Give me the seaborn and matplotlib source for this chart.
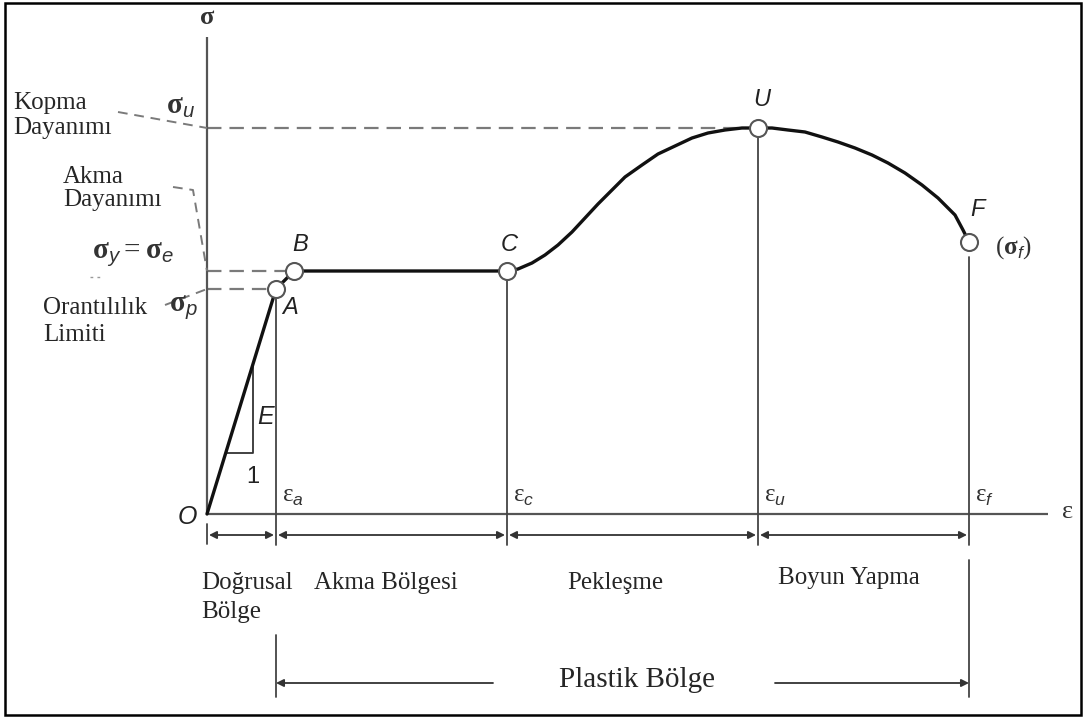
import matplotlib
matplotlib.use("Agg")
import matplotlib.pyplot as plt
import seaborn as sns
import pandas as pd
from matplotlib.patches import Rectangle

# ---------------- data: idealised stress–strain curve (arbitrary units) ----------------
point_names = ["A", "B", "C", "U", "F"]
point_strain = [0.69, 0.87, 3.00, 5.51, 7.62]
point_stress = [2.25, 2.43, 2.43, 3.86, 2.72]

# strain hardening branch C -> U
harden_strain = [3.11, 3.25, 3.38, 3.51, 3.65, 3.78, 3.91, 4.05, 4.18, 4.35, 4.51, 4.68, 4.85, 5.01, 5.18, 5.35]
harden_stress = [2.45, 2.51, 2.59, 2.69, 2.82, 2.96, 3.10, 3.24, 3.37, 3.49, 3.60, 3.68, 3.76, 3.81, 3.84, 3.86]

# necking branch U -> F
neck_strain = [5.65, 5.81, 5.98, 6.15, 6.31, 6.48, 6.65, 6.81, 6.98, 7.15, 7.31, 7.48, 7.56]
neck_stress = [3.86, 3.84, 3.82, 3.77, 3.72, 3.66, 3.59, 3.51, 3.41, 3.29, 3.16, 2.99, 2.84]

strain_subscripts = ["a", "c", "u", "f"]
strain_marks = [0.69, 3.00, 5.51, 7.62]

region_names = ["Doğrusal", "Akma Bölgesi", "Pekleşme", "Boyun Yapma"]
plastic_label = "Plastik Bölge"

# ---------------- assemble the full curve ----------------
curve_strain = [0.0] + point_strain[:3] + harden_strain + [point_strain[3]] + neck_strain + [point_strain[4]]
curve_stress = [0.0] + point_stress[:3] + harden_stress + [point_stress[3]] + neck_stress + [point_stress[4]]
curve = pd.DataFrame({"strain": curve_strain, "stress": curve_stress})
pts = pd.DataFrame({"name": point_names, "strain": point_strain, "stress": point_stress})

sns.set_style("white")
plt.rcParams["font.family"] = ["Liberation Serif", "DejaVu Serif"]
plt.rcParams["mathtext.fontset"] = "custom"
plt.rcParams["mathtext.rm"] = "Liberation Serif"
plt.rcParams["mathtext.bf"] = "Liberation Serif:bold"
plt.rcParams["mathtext.it"] = "Liberation Sans:italic"

fig = plt.figure(figsize=(10.88, 7.18), dpi=100)
ax = fig.add_axes([0, 0, 1, 1])

AX_C = "#555555"
DASH_C = "#7a7a7a"
THIN_C = "#444444"
SANS_IT = dict(family="Liberation Sans", style="italic")
LBL = 18

# coordinate axes
ax.plot([0, 0], [0, 4.77], color=AX_C, lw=1.6, solid_capstyle="butt", zorder=2)
ax.plot([0, 8.41], [0, 0], color=AX_C, lw=1.6, solid_capstyle="butt", zorder=2)
ax.text(0, 4.96, "σ", fontsize=19, fontweight="bold", ha="center", va="center", color="#333")
ax.text(8.61, 0.02, "ε", fontsize=19, ha="center", va="center", color="#333")
ax.text(-0.20, -0.03, "O", fontsize=18, ha="center", va="center", color="#222", **SANS_IT)

# reference dashed lines to the stress axis
sA, sB, sU = point_stress[0], point_stress[1], point_stress[3]
dash = dict(color=DASH_C, lw=1.6, dashes=(6.5, 3.6), zorder=1)
ax.plot([0, point_strain[3] - 0.12], [sU, sU], **dash)
ax.plot([0, point_strain[1] - 0.08], [sB, sB], **dash)
ax.plot([0, point_strain[0] - 0.08], [sA, sA], **dash)

# vertical lines from the key points down through the region arrows
tops = [point_stress[0] - 0.08, point_stress[2] - 0.09, point_stress[3] - 0.09, point_stress[4] - 0.15]
for x, top in zip(strain_marks, tops):
    ax.plot([x, x], [top, -0.31], color=THIN_C, lw=1.3, zorder=2)
ax.plot([0, 0], [-0.10, -0.30], color=THIN_C, lw=1.3)

# the stress-strain curve and its markers
sns.lineplot(data=curve, x="strain", y="stress", sort=False, estimator=None,
             color="#111111", linewidth=2.4, solid_joinstyle="round", ax=ax, zorder=4)
sns.scatterplot(data=pts, x="strain", y="stress", s=150, color="white",
                edgecolor="#555555", linewidth=1.5, ax=ax, zorder=5)
ax.set_xlim(-2.07, 8.81)
ax.set_ylim(-2.04, 5.14)
ax.axis("off")

label_off = {"A": (0.14, -0.18), "B": (0.06, 0.26), "C": (0.02, 0.26), "U": (0.04, 0.29), "F": (0.08, 0.32)}
for n, x, y in zip(point_names, point_strain, point_stress):
    dx, dy = label_off[n]
    ax.text(x + dx, y + dy, n, fontsize=17, ha="center", va="center", color="#222", **SANS_IT)
ax.text(8.06, 2.66, r"$(\mathbf{σ}_{f})$", fontsize=18, ha="center", va="center", color="#333")

# slope triangle on the elastic line
slope = point_stress[0] / point_strain[0]
y_low, x_v = 0.61, 0.46
ax.plot([y_low / slope, x_v, x_v], [y_low, y_low, slope * x_v], color="#333", lw=1.3, zorder=3)
ax.text(0.59, 0.97, "E", fontsize=18, ha="center", va="center", color="#222", **SANS_IT)
ax.text(0.46, 0.37, "1", fontsize=17, ha="center", va="center", color="#222", family="Liberation Sans")

# strain labels
for sub, x in zip(strain_subscripts, strain_marks):
    ax.text(x + 0.06, 0.17, r"$\mathrm{ε}_{%s}$" % sub, fontsize=18, ha="left", va="center", color="#333")

# stress labels and their descriptions
SIG = 21
ax.text(-0.41, 4.07, r"$\mathbf{σ}_{u}$", fontsize=SIG, ha="left", va="center", color="#333")
ax.text(-1.15, 2.59, r"$\mathbf{σ}_{y} = \mathbf{σ}_{e}$", fontsize=SIG, ha="left", va="center", color="#333")
ax.text(-0.38, 2.06, r"$\mathbf{σ}_{p}$", fontsize=SIG, ha="left", va="center", color="#333")

ax.text(-1.94, 4.11, "Kopma", fontsize=LBL, ha="left", va="center")
ax.text(-1.94, 3.86, "Dayanımı", fontsize=LBL, ha="left", va="center")
ax.text(-1.44, 3.37, "Akma", fontsize=LBL, ha="left", va="center")
ax.text(-1.44, 3.14, "Dayanımı", fontsize=LBL, ha="left", va="center")
ax.text(-1.64, 2.06, "Orantılılık", fontsize=LBL, ha="left", va="center")
ax.text(-1.64, 1.79, "Limiti", fontsize=LBL, ha="left", va="center")

lead = dict(color=DASH_C, lw=1.4, dashes=(5, 3.5))
ax.plot([-0.89, 0], [4.02, sU], **lead)
ax.plot([-0.34, -0.14, 0], [3.27, 3.24, sB], **lead)
ax.plot([-0.42, 0], [2.09, sA], **lead)
ax.plot([-1.17, -1.06], [2.37, 2.37], color="#999", lw=1.0, dashes=(2, 3))

# region arrows under the strain axis
arrow = dict(arrowstyle="<|-|>", color="#333", lw=1.3, mutation_scale=11, shrinkA=0, shrinkB=0)
bounds = [0.0] + strain_marks
for x0, x1 in zip(bounds[:-1], bounds[1:]):
    ax.annotate("", xy=(x0 + 0.02, -0.21), xytext=(x1 - 0.02, -0.21), arrowprops=arrow)

ax.text(-0.06, -0.69, region_names[0], fontsize=LBL, ha="left", va="center")
ax.text(-0.06, -0.98, "Bölge", fontsize=LBL, ha="left", va="center")
ax.text(1.07, -0.69, region_names[1], fontsize=LBL, ha="left", va="center")
ax.text(3.60, -0.69, region_names[2], fontsize=LBL, ha="left", va="center")
ax.text(5.71, -0.64, region_names[3], fontsize=LBL, ha="left", va="center")

# plastic region span
ax.plot([strain_marks[0]] * 2, [-1.21, -1.83], color=THIN_C, lw=1.3)
ax.plot([strain_marks[3]] * 2, [-0.46, -1.83], color=THIN_C, lw=1.3)
one_head = dict(arrowstyle="-|>", color="#333", lw=1.3, mutation_scale=11, shrinkA=0, shrinkB=0)
ax.annotate("", xy=(strain_marks[0], -1.69), xytext=(2.86, -1.69), arrowprops=one_head)
ax.annotate("", xy=(strain_marks[3], -1.69), xytext=(5.68, -1.69), arrowprops=one_head)
ax.text(4.30, -1.66, plastic_label, fontsize=21, ha="center", va="center")

# frame around the whole drawing
fig.patches.append(Rectangle((5 / 1088, 3 / 718), 1076 / 1088, 712 / 718, transform=fig.transFigure,
                             fill=False, edgecolor="black", lw=1.8))

fig.savefig("out.png", dpi=100)
